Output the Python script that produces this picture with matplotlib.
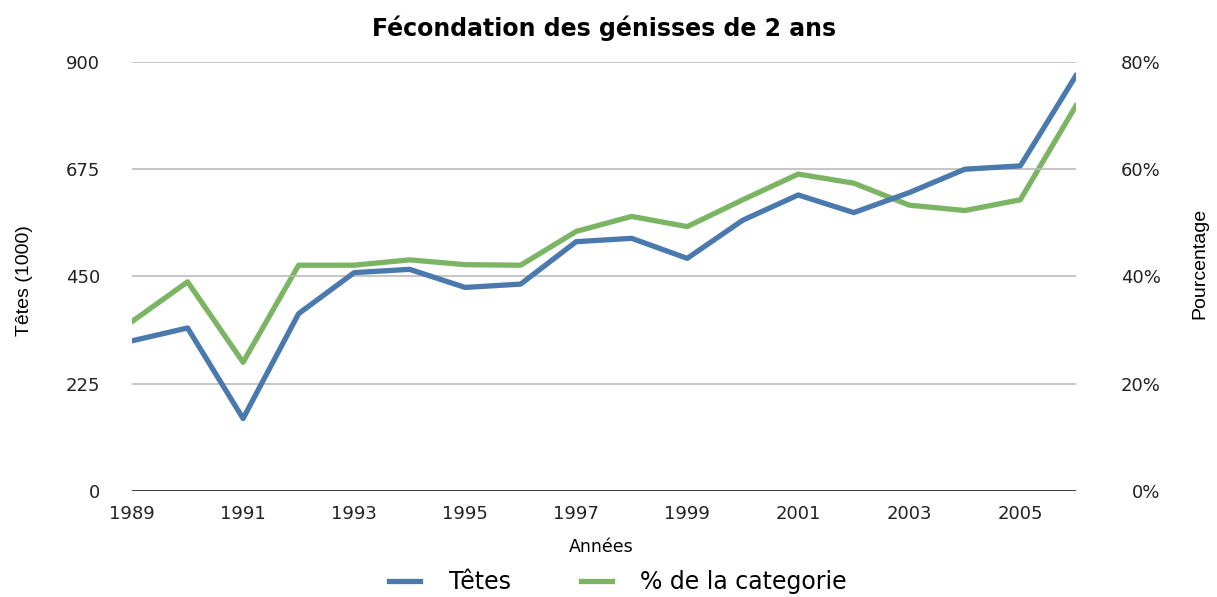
import matplotlib
matplotlib.use("Agg")
import matplotlib.pyplot as plt
from matplotlib.ticker import FuncFormatter

plt.rcParams['font.family'] = ['DejaVu Sans']

annees = list(range(1989, 2007))
tetes = [315, 342, 152, 372, 458, 465, 427, 434, 523, 530, 488, 568,
         621, 584, 626, 675, 682, 871]
pourcent = [31.6, 39.0, 24.0, 42.1, 42.1, 43.1, 42.2, 42.1, 48.4, 51.2,
            49.3, 54.3, 59.1, 57.4, 53.3, 52.3, 54.3, 71.8]

ticks_x = [1989, 1991, 1993, 1995, 1997, 1999, 2001, 2003, 2005]
ticks_left = [0, 225, 450, 675, 900]
ticks_right = [0, 20, 40, 60, 80]

bleu = "#4a79ae"
vert = "#7bb563"
narrow = ['Liberation Sans Narrow', 'Liberation Sans', 'DejaVu Sans']

fig = plt.figure(figsize=(12.17, 5.97), dpi=100)
ax = fig.add_axes([0.1085, 0.1776, 0.7755, 0.7186])
ax2 = ax.twinx()

l1, = ax.plot(annees, tetes, color=bleu, lw=3.8, label="Têtes")
l2, = ax2.plot(annees, pourcent, color=vert, lw=3.8, label="% de la categorie")
ax.set_zorder(ax2.get_zorder() + 1)
ax.patch.set_visible(False)

ax.set_xlim(1989, 2006)
ax.set_ylim(0, 900)
ax2.set_ylim(0, 80)
ax.set_xticks(ticks_x)
ax.set_yticks(ticks_left)
ax2.set_yticks(ticks_right)
ax2.yaxis.set_major_formatter(FuncFormatter(lambda v, p: "%d%%" % v))

for a in (ax, ax2):
    for s in a.spines.values():
        s.set_visible(False)
    a.tick_params(length=0, labelsize=13, colors="#222222")
ax.tick_params(axis='y', pad=23)
ax2.tick_params(axis='y', pad=61)
for t in ax2.get_yticklabels():
    t.set_horizontalalignment('right')
ax.tick_params(axis='x', pad=10)

for v in ticks_left[1:]:
    ax.axhline(v, color="#bbbbbb", lw=1.2, zorder=0)
ax.axhline(0, color="black", lw=1.8, zorder=1)

ax.set_xlabel("Années", fontsize=12.5)
ax.xaxis.set_label_coords(0.497, -0.11)
ax.set_ylabel("Têtes (1000)", fontsize=14, family=narrow)
ax.yaxis.set_label_coords(-0.105, 0.49)
ax2.set_ylabel("Pourcentage", fontsize=14, family=narrow)
ax2.yaxis.set_label_coords(1.122, 0.53)
ax.set_title("Fécondation des génisses de 2 ans", fontsize=17, fontweight="bold", pad=19)

fig.legend(handles=[l1, l2], loc="center", bbox_to_anchor=(0.508, 0.025),
           ncol=2, frameon=False, fontsize=17, handlelength=1.3, columnspacing=3.0,
           handletextpad=1.2)

fig.savefig("out.png", dpi=100)
